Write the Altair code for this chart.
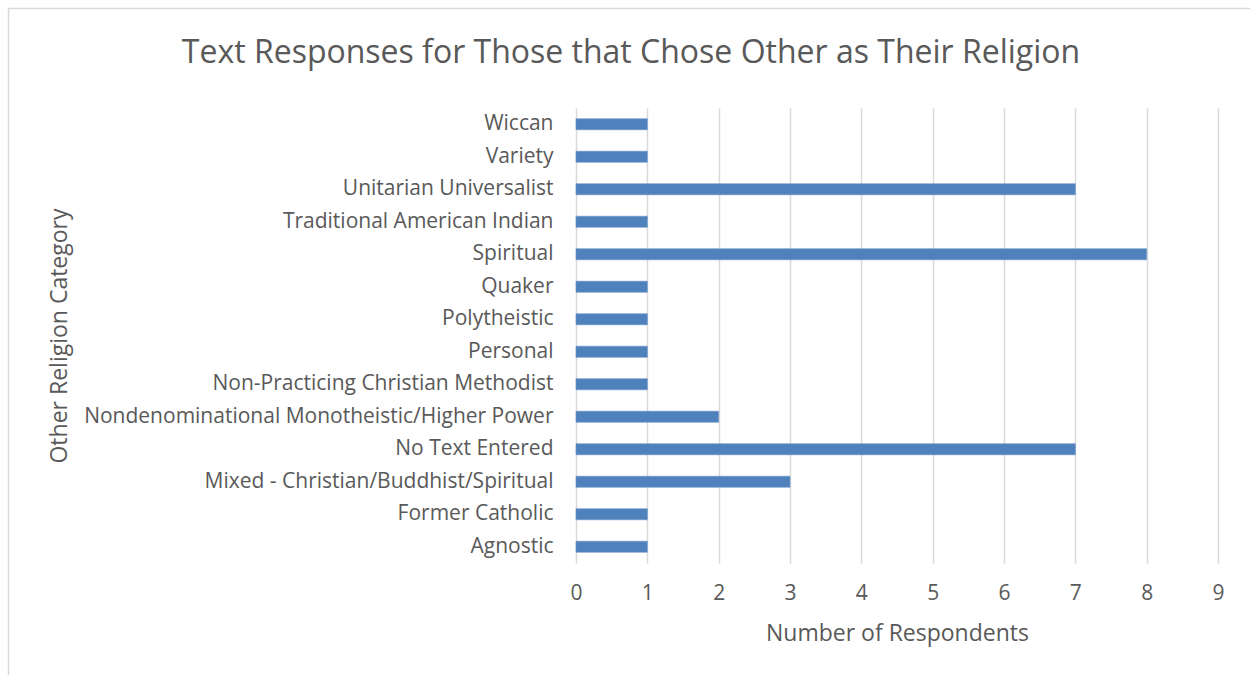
import altair as alt
import pandas as pd

categories = [
    "Wiccan",
    "Variety",
    "Unitarian Universalist",
    "Traditional American Indian",
    "Spiritual",
    "Quaker",
    "Polytheistic",
    "Personal",
    "Non-Practicing Christian Methodist",
    "Nondenominational Monotheistic/Higher Power",
    "No Text Entered",
    "Mixed - Christian/Buddhist/Spiritual",
    "Former Catholic",
    "Agnostic",
]
respondents = [1, 1, 7, 1, 8, 1, 1, 1, 1, 2, 7, 3, 1, 1]
x_ticks = list(range(0, 10))

FONT = "Open Sans"
TEXT = "#595959"
GRID = "#d9d9d9"

df = pd.DataFrame({"category": categories, "count": respondents})

bars = alt.Chart(df).mark_bar(color="#4f81bd", stroke="#6a93c8", strokeWidth=0.6).encode(
    x=alt.X(
        "count:Q",
        scale=alt.Scale(domain=[0, 9], nice=False, zero=True),
        axis=alt.Axis(
            values=x_ticks,
            title="Number of Respondents",
            grid=True,
            gridColor=GRID,
            gridWidth=1.5,
            domain=False,
            ticks=False,
            tickSize=0,
            labelFlush=False,
            labelPadding=36,
            labelBaseline="alphabetic",
            labelFontSize=21,
            labelColor=TEXT,
            labelFont=FONT,
            titleFont=FONT,
            titleFontSize=23,
            titleFontWeight="normal",
            titleColor=TEXT,
            titleBaseline="alphabetic",
            titleY=77,
        ),
    ),
    y=alt.Y(
        "category:N",
        sort=categories,
        scale=alt.Scale(paddingInner=0.66, paddingOuter=0.33),
        axis=alt.Axis(
            title="Other Religion Category",
            domain=False,
            ticks=False,
            tickSize=0,
            grid=False,
            labelPadding=23,
            labelFontSize=21,
            labelColor=TEXT,
            labelFont=FONT,
            labelLimit=600,
            labelBaseline="middle",
            titleFont=FONT,
            titleFontSize=23,
            titleFontWeight="normal",
            titleColor=TEXT,
            titleBaseline="alphabetic",
            titleX=-510,
        ),
    ),
)

# thin outline around the whole chart area
frame = alt.Chart(pd.DataFrame({"k": [0]})).mark_rect(
    filled=False, stroke=GRID, strokeWidth=1.5
).encode(
    x=alt.value(-567.5),
    x2=alt.value(720),
    y=alt.value(-99.5),
    y2=alt.value(620),
)

chart = alt.layer(bars, frame).properties(
    width=642,
    height=455,
    title=alt.TitleParams(
        "Text Responses for Those that Chose Other as Their Religion",
        font=FONT,
        fontSize=32,
        fontWeight="normal",
        color=TEXT,
        anchor="middle",
        frame="group",
        dx=-266,
        baseline="alphabetic",
        offset=-87,
    ),
    background="white",
    autosize=alt.AutoSizeParams(type="none"),
    padding={"left": 576, "top": 108, "right": 32, "bottom": 112},
).configure_view(stroke=None)

chart.save("out.html", embed_options={"renderer": "svg", "actions": False})
